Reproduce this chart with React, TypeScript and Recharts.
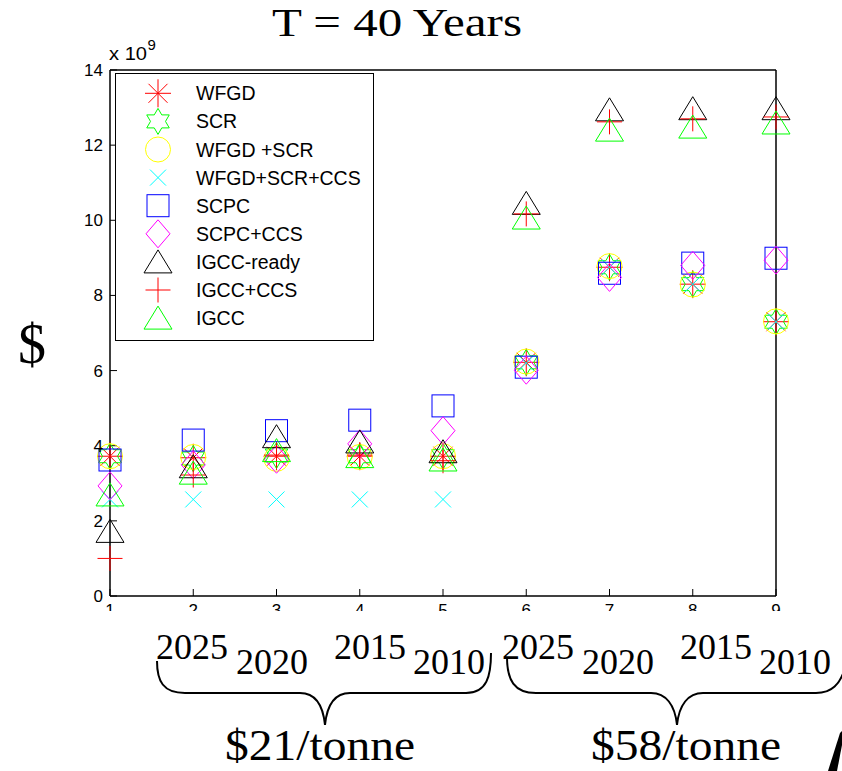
import { Legend, Scatter, ScatterChart, XAxis, YAxis } from "recharts";

// scenario index on the x axis
const scenarios = [1, 2, 3, 4, 5, 6, 7, 8, 9];
const xTicks = [1, 2, 3, 4, 5, 6, 7, 8, 9];
const yTicks = [0, 2, 4, 6, 8, 10, 12, 14];

// cost in units of 1e9 $
const wfgd = [3.72, 3.68, 3.72, 3.72, 3.72, 6.22, 8.75, 8.3, 7.3];
const scr = [3.72, 3.66, 3.74, 3.72, 3.72, 6.22, 8.75, 8.3, 7.3];
const wfgdScr = [3.72, 3.7, 3.65, 3.7, 3.72, 6.24, 8.78, 8.29, 7.31];
const wfgdScrCcs = [2.57, 2.57, 2.57, 2.57, 2.57, 6.2, 8.75, 8.3, 7.3];
const scpc = [3.62, 4.15, 4.4, 4.68, 5.06, 6.09, 8.59, 8.86, 8.99];
const scpcCcs = [2.93, 3.49, 3.64, 4.05, 4.4, 6.01, 8.48, 8.8, 8.94];
const igccReady = [1.72, 3.44, 4.24, 4.1, 3.84, 10.45, 12.94, 12.97, 12.97];
const igccCcs = [1.0, 3.22, 3.75, 3.75, 3.6, 10.17, 12.62, 12.7, 12.75];
const igcc = [2.69, 3.27, 3.87, 3.71, 3.62, 10.06, 12.4, 12.48, 12.59];

const yearLabels = ["2025", "2020", "2015", "2010"];
const priceLabels = ["$21/tonne", "$58/tonne"];

const series = [
  { name: "WFGD", values: wfgd, color: "#ff0000", kind: "asterisk" },
  { name: "SCR", values: scr, color: "#00ff00", kind: "hexagram" },
  { name: "WFGD +SCR", values: wfgdScr, color: "#ffff00", kind: "circle" },
  { name: "WFGD+SCR+CCS", values: wfgdScrCcs, color: "#00ffff", kind: "x" },
  { name: "SCPC", values: scpc, color: "#0000ff", kind: "square" },
  { name: "SCPC+CCS", values: scpcCcs, color: "#ff00ff", kind: "diamond" },
  { name: "IGCC-ready", values: igccReady, color: "#000000", kind: "triangle" },
  { name: "IGCC+CCS", values: igccCcs, color: "#ff0000", kind: "plus" },
  { name: "IGCC", values: igcc, color: "#00ff00", kind: "triangle" },
];

const SANS = "'Liberation Sans', Arial, Helvetica, sans-serif";
const SERIF = "'Liberation Serif', 'Times New Roman', serif";

function Marker({ kind, cx, cy, color }: { kind: string; cx: number; cy: number; color: string }) {
  const p = { fill: "none", stroke: color, strokeWidth: 1 };
  if (cx == null || cy == null) return null;
  switch (kind) {
    case "asterisk":
      return (
        <g {...p}>
          <line x1={cx - 13} y1={cy} x2={cx + 13} y2={cy} />
          <line x1={cx} y1={cy - 14} x2={cx} y2={cy + 14} />
          <line x1={cx - 9.5} y1={cy - 9.5} x2={cx + 9.5} y2={cy + 9.5} />
          <line x1={cx - 9.5} y1={cy + 9.5} x2={cx + 9.5} y2={cy - 9.5} />
        </g>
      );
    case "hexagram": {
      const pts: string[] = [];
      for (let i = 0; i < 12; i++) {
        const r = i % 2 === 0 ? 13 : 7.5;
        const a = -Math.PI / 2 + (i * Math.PI) / 6;
        pts.push(`${cx + r * Math.cos(a)},${cy + r * Math.sin(a)}`);
      }
      return <polygon points={pts.join(" ")} {...p} />;
    }
    case "circle":
      return <circle cx={cx} cy={cy} r={12.5} {...p} />;
    case "x":
      return (
        <g {...p}>
          <line x1={cx - 8} y1={cy - 8} x2={cx + 8} y2={cy + 8} />
          <line x1={cx - 8} y1={cy + 8} x2={cx + 8} y2={cy - 8} />
        </g>
      );
    case "square":
      return <rect x={cx - 11} y={cy - 11} width={22} height={22} {...p} />;
    case "diamond":
      return <polygon points={`${cx},${cy - 14} ${cx + 12},${cy} ${cx},${cy + 14} ${cx - 12},${cy}`} {...p} />;
    case "triangle":
      return <polygon points={`${cx},${cy - 12} ${cx + 14},${cy + 11} ${cx - 14},${cy + 11}`} {...p} />;
    case "plus":
      return (
        <g {...p}>
          <line x1={cx - 12.5} y1={cy} x2={cx + 12.5} y2={cy} />
          <line x1={cx} y1={cy - 12.5} x2={cx} y2={cy + 12.5} />
        </g>
      );
    default:
      return null;
  }
}

function LegendBox() {
  return (
    <svg width={259} height={268} style={{ display: "block" }}>
      <rect x={0.5} y={0.5} width={258} height={267} fill="#fff" stroke="#000" strokeWidth={1} />
      {series.map((s, i) => {
        const cy = 20.3 + i * 28.1;
        return (
          <g key={s.name}>
            <Marker kind={s.kind} cx={43} cy={cy} color={s.color} />
            <text x={81} y={cy + 7} fontSize={19.5} fontFamily={SANS} fill="#000">
              {s.name}
            </text>
          </g>
        );
      })}
    </svg>
  );
}

const EmptyTick = () => <g />;

export default function App() {
  const tickStyle = { fill: "#000", fontSize: 17, fontFamily: SANS };
  const axisLine = { stroke: "#000", strokeWidth: 1.5 };
  const tickLine = { stroke: "#000", strokeWidth: 1 };
  const yearX = [0, 80, 178, 257];
  const groupStart = [156, 502];

  return (
    <div style={{ position: "absolute", left: 0, top: 0, width: 842, height: 771, background: "#fff" }}>
      <ScatterChart width={842} height={771} margin={{ top: 60, right: 56, bottom: 145, left: 70 }}>
        <XAxis
          type="number"
          dataKey="x"
          domain={[1, 9]}
          ticks={xTicks}
          height={30}
          tickSize={-7}
          tickMargin={15}
          axisLine={axisLine}
          tickLine={tickLine}
          tick={tickStyle}
          interval={0}
        />
        <XAxis
          xAxisId="top"
          orientation="top"
          type="number"
          dataKey="x"
          domain={[1, 9]}
          ticks={xTicks}
          height={10}
          tickSize={-7}
          axisLine={axisLine}
          tickLine={tickLine}
          tick={EmptyTick}
          interval={0}
        />
        <YAxis
          type="number"
          dataKey="y"
          domain={[0, 14]}
          ticks={yTicks}
          width={40}
          tickSize={-7}
          tickMargin={14}
          axisLine={axisLine}
          tickLine={tickLine}
          tick={tickStyle}
          interval={0}
        />
        <YAxis
          yAxisId="right"
          orientation="right"
          type="number"
          dataKey="y"
          domain={[0, 14]}
          ticks={yTicks}
          width={10}
          tickSize={-7}
          axisLine={axisLine}
          tickLine={tickLine}
          tick={EmptyTick}
          interval={0}
        />
        {series.map((s) => (
          <Scatter
            key={s.name}
            name={s.name}
            data={scenarios.map((x, i) => ({ x, y: s.values[i] }))}
            fill="none"
            isAnimationActive={false}
            shape={(props: any) => <Marker kind={s.kind} cx={props.cx} cy={props.cy} color={s.color} />}
          />
        ))}
        <Legend
          layout="vertical"
          align="center"
          verticalAlign="middle"
          wrapperStyle={{ left: 115, top: 73, width: 259, height: 268 }}
          content={() => <LegendBox />}
        />
      </ScatterChart>

      <svg
        width={842}
        height={771}
        style={{ position: "absolute", left: 0, top: 0, pointerEvents: "none" }}
      >
        <text x={272} y={36} fontSize={40} fontFamily={SERIF} textLength={250} lengthAdjust="spacingAndGlyphs">
          T = 40 Years
        </text>
        <text x={109} y={60} fontSize={18} fontFamily={SANS} textLength={38} lengthAdjust="spacingAndGlyphs">
          x 10
        </text>
        <text x={147.5} y={50} fontSize={15} fontFamily={SANS}>
          9
        </text>
        <text x={18} y={363} fontSize={56} fontFamily={SERIF}>
          $
        </text>
        <rect x={90} y={611} width={752} height={23} fill="#fff" />
        {groupStart.map((g, gi) =>
          yearLabels.map((lab, j) => (
            <text
              key={`${gi}-${j}`}
              x={g + yearX[j]}
              y={j % 2 === 0 ? 659 : 674}
              fontSize={36}
              fontFamily={SERIF}
              textLength={72}
              lengthAdjust="spacingAndGlyphs"
            >
              {lab}
            </text>
          ))
        )}
        <path
          d="M157,661 C157,681 163,693 185,693 L300,693 C315,693 323,705 325,725 C327,705 335,693 350,693 L466,693 C487,693 491,676 491,653"
          fill="none"
          stroke="#000"
          strokeWidth={2}
        />
        <path
          d="M507,657 C507,680 514,693 536,693 L651,693 C666,693 675,705 677,725 C679,705 688,693 703,693 L816,693 C832,693 840,684 845,668"
          fill="none"
          stroke="#000"
          strokeWidth={2}
        />
        {priceLabels.map((lab, i) => (
          <text
            key={lab}
            x={i === 0 ? 225 : 591}
            y={760}
            fontSize={45}
            fontFamily={SERIF}
            textLength={190}
            lengthAdjust="spacingAndGlyphs"
          >
            {lab}
          </text>
        ))}
        <polygon points="840,733 842,731 842,745 837,771 828,771" fill="#000" />
      </svg>
    </div>
  );
}
